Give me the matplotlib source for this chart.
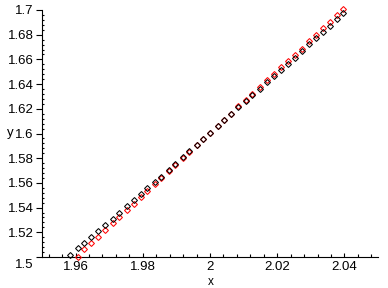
import matplotlib
matplotlib.use("Agg")
import matplotlib.pyplot as plt
from matplotlib.ticker import MultipleLocator, FormatStrFormatter
from matplotlib.transforms import ScaledTranslation

# shared x positions of the points
x_vals = [1.9583, 1.9608, 1.9626, 1.9647, 1.9668, 1.9688, 1.9712, 1.9730, 1.9754, 1.9775,
          1.9796, 1.9813, 1.9837, 1.9855, 1.9879, 1.9897, 1.9921, 1.9938, 1.9960, 1.9980,
          2.0000, 2.0025, 2.0042, 2.0063, 2.0084, 2.0107, 2.0126, 2.0149, 2.0171, 2.0191,
          2.0212, 2.0233, 2.0254, 2.0275, 2.0296, 2.0316, 2.0337, 2.0358, 2.0379, 2.0397]

black_y = [1.5016, 1.5070, 1.5111, 1.5160, 1.5211, 1.5257, 1.5310, 1.5354, 1.5411, 1.5459,
           1.5510, 1.5556, 1.5605, 1.5650, 1.5707, 1.5756, 1.5807, 1.5856, 1.5907, 1.5956,
           1.6002, 1.6061, 1.6109, 1.6158, 1.6212, 1.6260, 1.6308, 1.6361, 1.6417, 1.6467,
           1.6518, 1.6566, 1.6611, 1.6665, 1.6723, 1.6771, 1.6825, 1.6873, 1.6927, 1.6973]

red_x = x_vals[1:]
red_y = [1.5002, 1.5062, 1.5111, 1.5164, 1.5216, 1.5273, 1.5322, 1.5378, 1.5427, 1.5483,
         1.5532, 1.5589, 1.5637, 1.5694, 1.5747, 1.5802, 1.5853, 1.5906, 1.5955, 1.6001,
         1.6061, 1.6110, 1.6159, 1.6219, 1.6268, 1.6318, 1.6373, 1.6431, 1.6483, 1.6536,
         1.6586, 1.6633, 1.6688, 1.6749, 1.6799, 1.6855, 1.6905, 1.6961, 1.7006]

x_major = [1.96, 1.98, 2.00, 2.02, 2.04]
y_major = [1.50, 1.52, 1.54, 1.56, 1.58, 1.60, 1.62, 1.64, 1.66, 1.68, 1.70]

plt.rcParams['font.family'] = ['Liberation Sans', 'DejaVu Sans']

fig = plt.figure(figsize=(3.88, 2.88), dpi=100)
W, H = 388, 288
ax = fig.add_axes([42 / W, (H - 257) / H, (378 - 42) / W, (257 - 10) / H])
ax.set_xlim(1.95, 2.05)
ax.set_ylim(1.5, 1.7)

ms = 3.0
ax.plot(red_x, red_y, linestyle='none', marker='D', markersize=ms, markerfacecolor='none',
        markeredgecolor='#ff0000', markeredgewidth=0.75, clip_on=False, zorder=3)
ax.plot(x_vals, black_y, linestyle='none', marker='D', markersize=ms, markerfacecolor='none',
        markeredgecolor='black', markeredgewidth=0.75, clip_on=False, zorder=4)

for s in ('top', 'right'):
    ax.spines[s].set_visible(False)
for s in ('left', 'bottom'):
    ax.spines[s].set_linewidth(0.8)

ax.set_xticks(x_major)
ax.set_yticks(y_major)
ax.xaxis.set_minor_locator(MultipleLocator(0.004))
ax.yaxis.set_minor_locator(MultipleLocator(0.004))
ax.xaxis.set_major_formatter(FormatStrFormatter('%g'))
ax.yaxis.set_major_formatter(FormatStrFormatter('%g'))

ax.tick_params(axis='x', which='major', direction='in', length=3, width=0.8, pad=3, labelsize=9.5)
ax.tick_params(axis='x', which='minor', direction='in', length=2, width=0.8)
ax.tick_params(axis='y', which='major', direction='out', length=4, width=0.8, pad=2, labelsize=9.5)
ax.tick_params(axis='y', which='minor', direction='in', length=1.5, width=0.8)

fig.canvas.draw()
lab0 = ax.get_yticklabels()[0]
lab0.set_transform(lab0.get_transform() + ScaledTranslation(0, -0.06, fig.dpi_scale_trans))

fig.text(10 / W, 1 - 133 / H, 'y', ha='center', va='center', fontsize=9.5)
fig.text(211 / W, 1 - 282 / H, 'x', ha='center', va='center', fontsize=8.5)

fig.savefig('out.png', dpi=100)
